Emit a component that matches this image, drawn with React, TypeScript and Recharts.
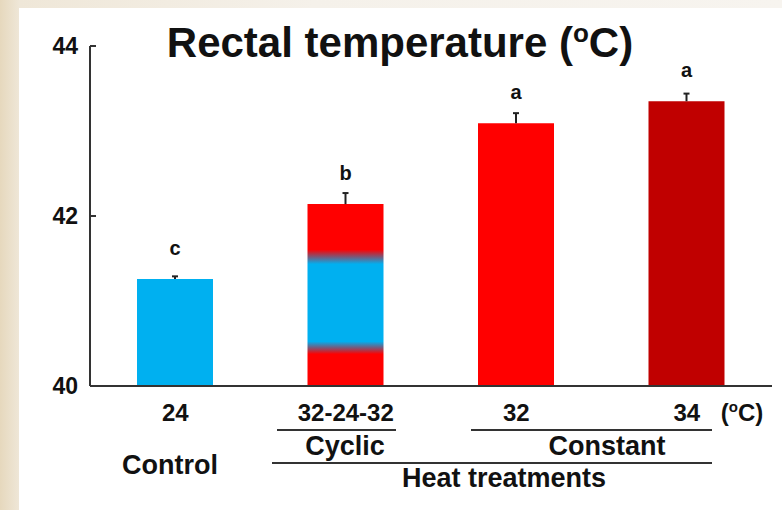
import { BarChart, Bar, XAxis, YAxis, Cell, LabelList } from "recharts";

// treatment temperatures shown under each bar
const doses = ["24", "32-24-32", "32", "34"];
// mean rectal temperature (°C)
const temps = [41.26, 42.14, 43.09, 43.35];
// standard error, drawn upward only
const errs = [0.03, 0.13, 0.12, 0.09];
// significance letters
const letters = ["c", "b", "a", "a"];
const yTicks = [40, 42, 44];
const yMin = 40;

const colors = ["#00b0f0", "url(#cyclicFill)", "#ff0000", "#c00000"];
const FONT = '"Liberation Sans", Arial, Helvetica, sans-serif';

const data = doses.map((d, i) => ({
  dose: d,
  temp: temps[i],
  // error as a share of the bar's drawn length, so the whisker follows the axis scale
  errFrac: errs[i] / (temps[i] - yMin),
  letter: letters[i],
}));

const YTick = (props: any) => {
  const { x, y, payload } = props;
  return (
    <g>
      <text
        x={x}
        y={y}
        dy="0.36em"
        textAnchor="end"
        fontFamily={FONT}
        fontWeight="bold"
        fontSize={23}
        fill="#111"
      >
        {payload.value}
      </text>
      <line x1={x + 12} x2={x + 18} y1={y} y2={y} stroke="#333" strokeWidth={2} />
    </g>
  );
};

const XTick = (props: any) => {
  const { x, payload } = props;
  return (
    <text
      x={x}
      y={421}
      textAnchor="middle"
      fontFamily={FONT}
      fontWeight="bold"
      fontSize={24}
      fill="#111"
    >
      {payload.value}
    </text>
  );
};

const Whisker = (props: any) => {
  const { x, y, width, height, value } = props;
  const cx = x + width / 2;
  const top = y - value * height;
  return (
    <g stroke="#222" strokeWidth={2}>
      <line x1={cx} x2={cx} y1={y} y2={top} />
      <line x1={cx - 3} x2={cx + 3} y1={top} y2={top} />
    </g>
  );
};

const LetterLabel = (props: any) => {
  const { x, y, width, value } = props;
  return (
    <text
      x={x + width / 2}
      y={y - 24}
      textAnchor="middle"
      fontFamily={FONT}
      fontWeight="bold"
      fontSize={20}
      fill="#111"
    >
      {value}
    </text>
  );
};

export default function App() {
  const txt = { fontFamily: FONT, fontWeight: "bold" as const, fill: "#111" };
  return (
    <div
      style={{
        position: "absolute",
        left: 0,
        top: 0,
        width: 782,
        height: 510,
        overflow: "hidden",
        background: "linear-gradient(to right, #e6d8bd 0%, #efe7d8 2.5%, #f5f1ea 40%, #f7f4ef 100%)",
      }}
    >
      <div
        style={{ position: "absolute", left: 19, top: 8, right: 0, bottom: 0, background: "#fff" }}
      />
      <div style={{ position: "absolute", left: 0, top: 0 }}>
        <BarChart
          width={782}
          height={510}
          data={data}
          margin={{ top: 46, right: 10, bottom: 84, left: 40 }}
        >
          <defs>
            <linearGradient id="cyclicFill" x1="0" y1="0" x2="0" y2="1">
              <stop offset="0" stopColor="#ff0000" />
              <stop offset="0.25" stopColor="#ff0000" />
              <stop offset="0.29" stopColor="#7a5878" />
              <stop offset="0.33" stopColor="#00b0f0" />
              <stop offset="0.755" stopColor="#00b0f0" />
              <stop offset="0.79" stopColor="#7a5878" />
              <stop offset="0.825" stopColor="#ff0000" />
              <stop offset="1" stopColor="#ff0000" />
            </linearGradient>
          </defs>
          <XAxis
            dataKey="dose"
            height={40}
            tickLine={false}
            axisLine={{ stroke: "#333", strokeWidth: 2 }}
            tick={<XTick />}
            interval={0}
          />
          <YAxis
            domain={[40, 44]}
            ticks={yTicks}
            width={50}
            tickSize={0}
            tickMargin={12}
            axisLine={{ stroke: "#333", strokeWidth: 2 }}
            tick={<YTick />}
          />
          <Bar dataKey="temp" barSize={76} isAnimationActive={false}>
            {data.map((d, i) => (
              <Cell key={d.dose} fill={colors[i]} />
            ))}
            <LabelList dataKey="errFrac" content={<Whisker />} />
            <LabelList dataKey="letter" content={<LetterLabel />} />
          </Bar>
        </BarChart>
      </div>
      <svg
        width={782}
        height={510}
        style={{ position: "absolute", left: 0, top: 0, pointerEvents: "none" }}
      >
        <text x={400} y={57} textAnchor="middle" fontSize={42} {...txt}>
          Rectal temperature (
          <tspan fontSize={26} dy={-15}>o</tspan>
          <tspan dy={15}>C)</tspan>
        </text>
        <text x={742} y={421} textAnchor="middle" fontSize={24} {...txt}>
          (
          <tspan fontSize={15} dy={-9}>o</tspan>
          <tspan dy={9}>C)</tspan>
        </text>
        <line x1={277} x2={396} y1={430} y2={430} stroke="#333" strokeWidth={2} />
        <line x1={471} x2={712} y1={430} y2={430} stroke="#333" strokeWidth={2} />
        <line x1={272} x2={712} y1={463} y2={463} stroke="#333" strokeWidth={2} />
        <text x={345} y={455} textAnchor="middle" fontSize={27} {...txt}>
          Cyclic
        </text>
        <text x={607} y={455} textAnchor="middle" fontSize={27} {...txt}>
          Constant
        </text>
        <text x={170} y={474} textAnchor="middle" fontSize={27} {...txt}>
          Control
        </text>
        <text x={504} y={487} textAnchor="middle" fontSize={27} {...txt}>
          Heat treatments
        </text>
      </svg>
    </div>
  );
}
